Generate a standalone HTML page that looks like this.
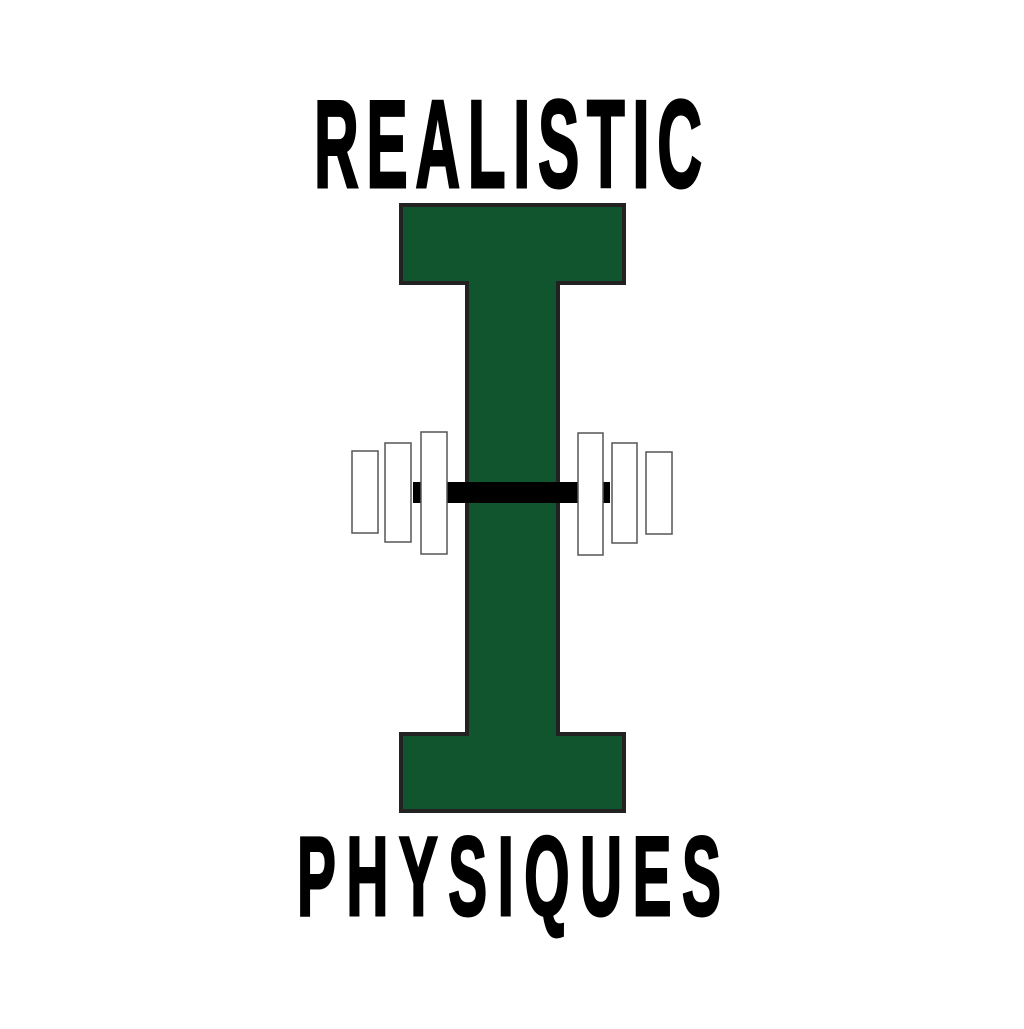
<!DOCTYPE html>
<html><head><style>html,body{margin:0;padding:0;background:#fff}</style></head>
<body>
<svg width="1024" height="1024" viewBox="0 0 1024 1024" xmlns="http://www.w3.org/2000/svg">
<rect width="1024" height="1024" fill="#fff"/>
<text transform="translate(314,187) scale(0.5,1)" font-family="Liberation Sans Narrow, Liberation Sans, sans-serif" font-weight="bold" font-size="124" textLength="776" lengthAdjust="spacing" fill="#000" stroke="#000" stroke-width="3">REALISTIC</text>
<path d="M401,205 H624 V283 H558 V734 H624 V811 H401 V734 H467 V283 H401 Z" fill="#10552e" stroke="#222" stroke-width="4"/>
<rect x="413" y="482" width="197" height="21" fill="#000"/>
<g fill="#fff" stroke="#555" stroke-width="1.5">
<rect x="352" y="451" width="26" height="82"/>
<rect x="385" y="443" width="26" height="99"/>
<rect x="421" y="432" width="26" height="122"/>
<rect x="578" y="433" width="25" height="122"/>
<rect x="612" y="443" width="25" height="100"/>
<rect x="646" y="452" width="26" height="82"/>
</g>
<text transform="translate(297,915) scale(0.52,1)" font-family="Liberation Sans Narrow, Liberation Sans, sans-serif" font-weight="bold" font-size="112" textLength="815" lengthAdjust="spacing" fill="#000" stroke="#000" stroke-width="3">PHYSIQUES</text>
</svg>
</body></html>
